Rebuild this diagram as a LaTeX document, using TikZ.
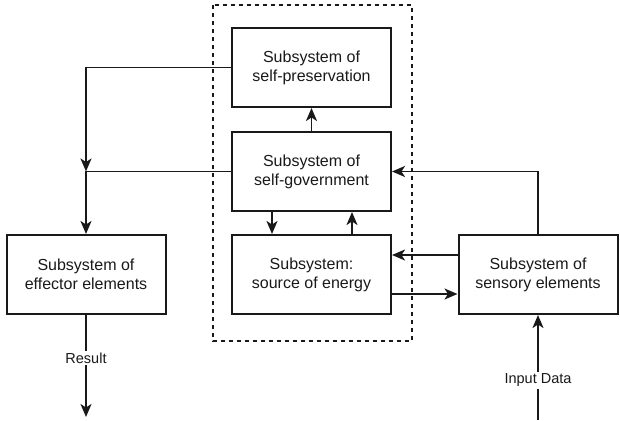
\documentclass[tikz,border=0pt]{standalone}
\usepackage{fontspec}
\setmainfont{Liberation Sans}
\usetikzlibrary{arrows.meta}
\definecolor{ink}{RGB}{25,25,25}
\tikzset{
  box/.style={draw=ink, line width=2pt, minimum width=159pt, minimum height=79pt, align=center, inner sep=0pt, text=ink, font=\fontsize{16}{19}\selectfont},
  tip/.tip={Stealth[length=13pt,width=11pt,inset=3.5pt]},
  arr/.style={draw=ink, line width=1.8pt, -tip},
  lbl/.style={fill=white, text=ink, font=\fontsize{14.5}{17}\selectfont, inner sep=2pt}
}
\begin{document}
\begin{tikzpicture}[x=1pt,y=-1pt]
\useasboundingbox (0,0) rectangle (620,420);
\draw[ink, line width=1.6pt, dash pattern=on 4pt off 4pt] (213,5) rectangle (412,341);
\node[box] (pres) at (311.5,67.5) {Subsystem of\\self-preservation};
\node[box] (gov) at (311.5,171.5) {Subsystem of\\self-government};
\node[box] (energy) at (311.5,274.5) {Subsystem:\\source of energy};
\node[box] (eff) at (86,274.5) {Subsystem of\\effector elements};
\node[box] (sens) at (538,274.5) {Subsystem of\\sensory elements};
\coordinate (j1) at (86,171.5);
\coordinate (res) at (86,417);
\coordinate (inp) at (538,420);
\draw[arr] (pres.west) -| (j1);
\draw[arr] (gov.west) -| (eff.north);
\draw[arr] (gov.north) -- (pres.south);
\draw[arr] ([xshift=-39.5pt]gov.south) -- ([xshift=-39.5pt]energy.north);
\draw[arr] ([xshift=40.5pt]energy.north) -- ([xshift=40.5pt]gov.south);
\draw[arr] (sens.north) |- (gov.east);
\draw[arr] ([yshift=19.5pt]sens.west) -- ([yshift=19.5pt]energy.east);
\draw[arr] ([yshift=-19.5pt]energy.east) -- ([yshift=-19.5pt]sens.west);
\draw[arr] (eff.south) -- node[lbl, pos=0.42] {Result} (res);
\draw[arr] (inp) -- node[lbl, pos=0.38] {Input Data} (sens.south);
\end{tikzpicture}
\end{document}
